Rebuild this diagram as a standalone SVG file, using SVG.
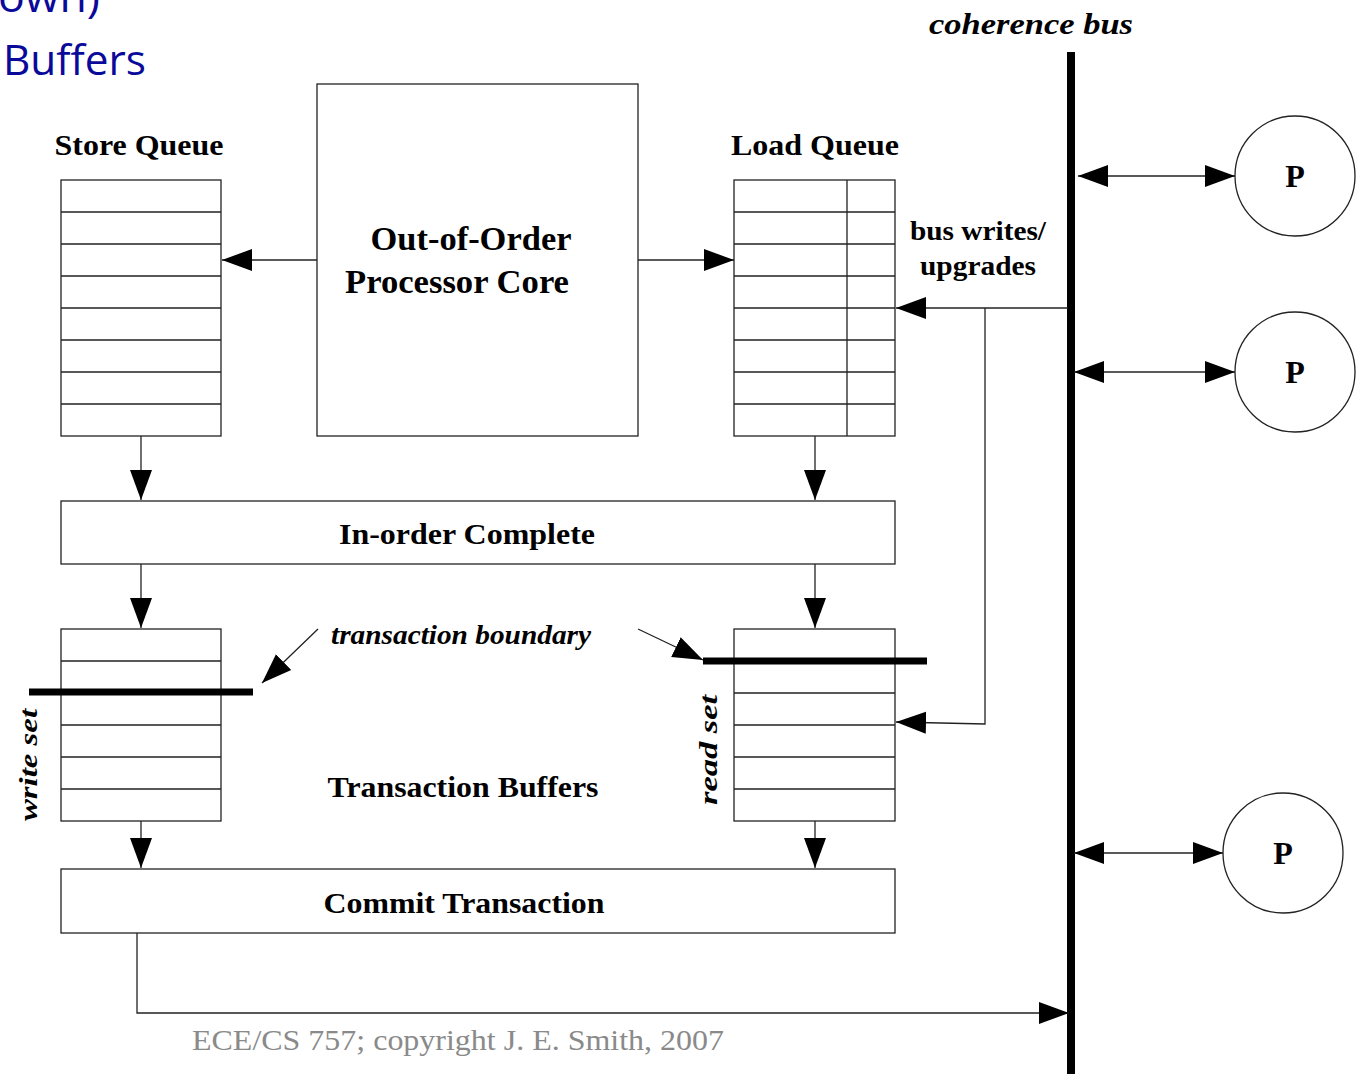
<svg xmlns="http://www.w3.org/2000/svg" width="1359" height="1074" viewBox="0 0 1359 1074">
  <style>
    .box { fill: #fff; stroke: #222; stroke-width: 1.3; }
    .row { stroke: #222; stroke-width: 1.3; fill: none; }
    .wire { stroke: #222; stroke-width: 1.3; fill: none; }
    .thick { stroke: #000; stroke-width: 7; fill: none; }
    .lbl { font-family: "Liberation Serif", "Times New Roman", serif; font-weight: bold; fill: #000; }
    .ital { font-family: "Liberation Serif", "Times New Roman", serif; font-weight: bold; font-style: italic; fill: #000; }
    .title { font-family: "Open Sans", "Liberation Sans", sans-serif; fill: #0a0a9a; }
    .foot { font-family: "Liberation Serif", "Times New Roman", serif; fill: #8a8a8a; }
  </style>
  <defs>
    <marker id="arrow" markerUnits="userSpaceOnUse" markerWidth="32" markerHeight="24" refX="30" refY="12" orient="auto-start-reverse">
      <path d="M0,1 L30,12 L0,23 Z" fill="#000"/>
    </marker>
  </defs>

  <!-- slide heading fragments -->
  <text class="title" x="-2" y="12" font-size="42" textLength="102" lengthAdjust="spacingAndGlyphs">own)</text>
  <text class="title" x="3" y="75" font-size="42" textLength="143" lengthAdjust="spacingAndGlyphs">Buffers</text>

  <!-- coherence bus -->
  <g id="coherence-bus">
    <line x1="1071" y1="52" x2="1071" y2="1074" stroke="#000" stroke-width="8"/>
    <text class="ital" x="1031" y="34" font-size="30" text-anchor="middle" textLength="204" lengthAdjust="spacingAndGlyphs">coherence bus</text>
  </g>

  <!-- store queue -->
  <g id="store-queue">
    <text class="lbl" x="139" y="155" font-size="29" text-anchor="middle" textLength="169" lengthAdjust="spacingAndGlyphs">Store Queue</text>
    <rect class="box" x="61" y="180" width="160" height="256"/>
    <path class="row" d="M61,212H221M61,244H221M61,276H221M61,308H221M61,340H221M61,372H221M61,404H221"/>
  </g>

  <!-- processor core -->
  <g id="core">
    <rect class="box" x="317" y="84" width="321" height="352"/>
    <text class="lbl" x="471" y="250" font-size="33" text-anchor="middle" textLength="201" lengthAdjust="spacingAndGlyphs">Out-of-Order</text>
    <text class="lbl" x="457" y="293" font-size="33" text-anchor="middle" textLength="224" lengthAdjust="spacingAndGlyphs">Processor Core</text>
  </g>

  <!-- load queue -->
  <g id="load-queue">
    <text class="lbl" x="815" y="155" font-size="29" text-anchor="middle" textLength="168" lengthAdjust="spacingAndGlyphs">Load Queue</text>
    <rect class="box" x="734" y="180" width="161" height="256"/>
    <path class="row" d="M734,212H895M734,244H895M734,276H895M734,308H895M734,340H895M734,372H895M734,404H895M847,180V436"/>
  </g>

  <!-- in-order complete -->
  <g id="in-order-complete">
    <rect class="box" x="61" y="501" width="834" height="63"/>
    <text class="lbl" x="467" y="544" font-size="30" text-anchor="middle" textLength="256" lengthAdjust="spacingAndGlyphs">In-order Complete</text>
  </g>

  <!-- write set buffer -->
  <g id="write-set">
    <rect class="box" x="61" y="629" width="160" height="192"/>
    <path class="row" d="M61,661H221M61,693H221M61,725H221M61,757H221M61,789H221"/>
    <line class="thick" x1="29" y1="692" x2="253" y2="692"/>
    <text class="ital" transform="translate(37,765) rotate(-90)" font-size="26" text-anchor="middle" textLength="112" lengthAdjust="spacingAndGlyphs">write set</text>
  </g>

  <!-- read set buffer -->
  <g id="read-set">
    <rect class="box" x="734" y="629" width="161" height="192"/>
    <path class="row" d="M734,693H895M734,725H895M734,757H895M734,789H895"/>
    <line class="thick" x1="703" y1="661" x2="927" y2="661"/>
    <text class="ital" transform="translate(717,750) rotate(-90)" font-size="26" text-anchor="middle" textLength="110" lengthAdjust="spacingAndGlyphs">read set</text>
  </g>

  <!-- transaction buffers labels -->
  <g id="transaction-buffers">
    <text class="ital" x="461" y="644" font-size="27" text-anchor="middle" textLength="260" lengthAdjust="spacingAndGlyphs">transaction boundary</text>
    <text class="lbl" x="463" y="797" font-size="30" text-anchor="middle" textLength="271" lengthAdjust="spacingAndGlyphs">Transaction Buffers</text>
  </g>

  <!-- commit transaction -->
  <g id="commit">
    <rect class="box" x="61" y="869" width="834" height="64"/>
    <text class="lbl" x="464" y="913" font-size="30" text-anchor="middle" textLength="281" lengthAdjust="spacingAndGlyphs">Commit Transaction</text>
  </g>

  <!-- processors -->
  <g id="p1">
    <circle class="box" cx="1295" cy="176" r="60"/>
    <text class="lbl" x="1295" y="187" font-size="32" text-anchor="middle">P</text>
  </g>
  <g id="p2">
    <circle class="box" cx="1295" cy="372" r="60"/>
    <text class="lbl" x="1295" y="383" font-size="32" text-anchor="middle">P</text>
  </g>
  <g id="p3">
    <circle class="box" cx="1283" cy="853" r="60"/>
    <text class="lbl" x="1283" y="864" font-size="32" text-anchor="middle">P</text>
  </g>

  <!-- bus writes label -->
  <g id="bus-writes">
    <text class="lbl" x="978" y="240" font-size="27" text-anchor="middle" textLength="136" lengthAdjust="spacingAndGlyphs">bus writes/</text>
    <text class="lbl" x="978" y="275" font-size="27" text-anchor="middle" textLength="116" lengthAdjust="spacingAndGlyphs">upgrades</text>
  </g>

  <!-- connectors -->
  <g id="connectors">
    <line class="wire" x1="317" y1="260" x2="222" y2="260" marker-end="url(#arrow)"/>
    <line class="wire" x1="638" y1="260" x2="734" y2="260" marker-end="url(#arrow)"/>
    <line class="wire" x1="141" y1="436" x2="141" y2="500" marker-end="url(#arrow)"/>
    <line class="wire" x1="815" y1="436" x2="815" y2="500" marker-end="url(#arrow)"/>
    <line class="wire" x1="141" y1="564" x2="141" y2="628" marker-end="url(#arrow)"/>
    <line class="wire" x1="815" y1="564" x2="815" y2="628" marker-end="url(#arrow)"/>
    <line class="wire" x1="141" y1="821" x2="141" y2="868" marker-end="url(#arrow)"/>
    <line class="wire" x1="815" y1="821" x2="815" y2="868" marker-end="url(#arrow)"/>
    <line class="wire" x1="318" y1="629" x2="262" y2="683" marker-end="url(#arrow)"/>
    <line class="wire" x1="638" y1="629" x2="703" y2="660" marker-end="url(#arrow)"/>
    <line class="wire" x1="1068" y1="308" x2="896" y2="308" marker-end="url(#arrow)"/>
    <polyline class="wire" points="985,308 985,724 896,722" marker-end="url(#arrow)"/>
    <polyline class="wire" points="137,933 137,1013 1069,1013" marker-end="url(#arrow)"/>
    <line class="wire" x1="1078" y1="176" x2="1235" y2="176" marker-start="url(#arrow)" marker-end="url(#arrow)"/>
    <line class="wire" x1="1074" y1="372" x2="1235" y2="372" marker-start="url(#arrow)" marker-end="url(#arrow)"/>
    <line class="wire" x1="1074" y1="853" x2="1223" y2="853" marker-start="url(#arrow)" marker-end="url(#arrow)"/>
  </g>

  <text class="foot" x="192" y="1050" font-size="30" textLength="532" lengthAdjust="spacingAndGlyphs">ECE/CS 757; copyright J. E. Smith, 2007</text>
</svg>
